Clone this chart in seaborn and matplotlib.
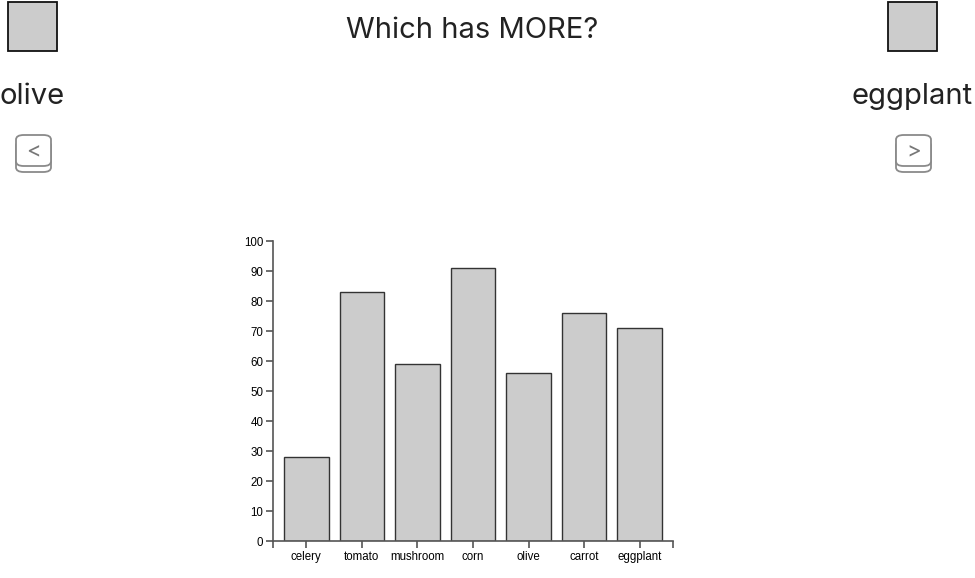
import matplotlib.pyplot as plt
import seaborn as sns
import pandas as pd
from matplotlib.patches import Rectangle, FancyBboxPatch

categories = ['celery', 'tomato', 'mushroom', 'corn', 'olive', 'carrot', 'eggplant']
values = [28, 83, 59, 91, 56, 76, 71]
y_ticks = list(range(0, 101, 10))
left_item = 'olive'
right_item = 'eggplant'
title = 'Which has MORE?'

W, H = 975, 578


def fx(x):
    return x / W


def fy(y):
    return 1 - y / H


sns.set_style('white')
plt.rcParams['font.family'] = ['Liberation Sans', 'DejaVu Sans']

df = pd.DataFrame({'item': categories, 'value': values})

fig = plt.figure(figsize=(W / 100, H / 100), dpi=100)
ax = fig.add_axes([fx(273), fy(541), fx(673) - fx(273), fy(241) - fy(541)])

sns.barplot(data=df, x='item', y='value', color='#cccccc', saturation=1,
            edgecolor='#333333', linewidth=1, width=0.8, ax=ax)

axis_color = '#555555'
ax.set_xlim(-0.6, 6.6)
ax.set_ylim(0, 100)
ax.set_yticks(y_ticks)
ax.set_yticklabels([str(v) for v in y_ticks])
ax.set_xticks([-0.6] + list(range(len(categories))) + [6.6])
ax.set_xticklabels([''] + categories + [''])
ax.set(xlabel='', ylabel='')
for side in ['top', 'right']:
    ax.spines[side].set_visible(False)
for side in ['left', 'bottom']:
    ax.spines[side].set_color(axis_color)
    ax.spines[side].set_linewidth(1.2)
ax.tick_params(axis='both', length=5, width=1.2, color=axis_color, labelsize=8.3,
               labelcolor='black', pad=2, direction='out', left=True, bottom=True)
ax.grid(False)

# header
hfont = ['Inter', 'DejaVu Sans']
fig.text(fx(472), fy(30), title, ha='center', va='center', fontsize=21,
         color='#222222', family=hfont)
fig.text(fx(32), fy(96), left_item, ha='center', va='center', fontsize=21,
         color='#222222', family=hfont)
fig.text(fx(912), fy(96), right_item, ha='center', va='center', fontsize=21,
         color='#222222', family=hfont)

# swatches
for x0 in [8, 888]:
    fig.add_artist(Rectangle((fx(x0), fy(51)), fx(49), fy(2) - fy(51),
                             transform=fig.transFigure, facecolor='#cccccc',
                             edgecolor='#111111', linewidth=1.3))

# buttons
for x0, glyph in [(16, '<'), (896, '>')]:
    for top, z in [(141, 1), (135, 2)]:
        fig.add_artist(FancyBboxPatch((fx(x0), fy(top + 31)), fx(35), fy(top) - fy(top + 31),
                                      boxstyle='round,pad=0,rounding_size=0.008',
                                      transform=fig.transFigure, facecolor='white',
                                      edgecolor='#8a8a8a', linewidth=1.3, zorder=z))
    fig.text(fx(x0 + 17.5), fy(151), glyph, ha='center', va='center', fontsize=16,
             color='#777777', family=hfont, zorder=3)

fig.savefig('out.png', dpi=100)
